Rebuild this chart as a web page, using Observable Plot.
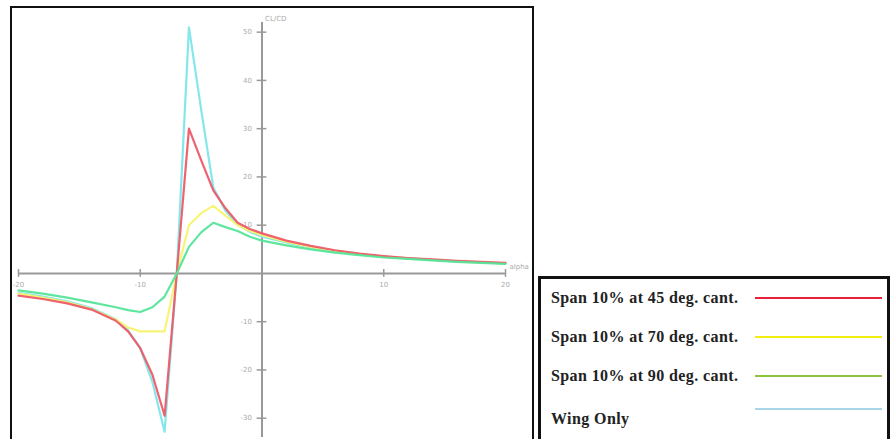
<!DOCTYPE html>
<html>
<head>
<meta charset="utf-8">
<script src="https://cdn.jsdelivr.net/npm/d3@7"></script>
<script src="https://cdn.jsdelivr.net/npm/@observablehq/plot@0.6"></script>
<style>
  html, body { margin: 0; padding: 0; background: #fff; }
  #wrap { position: relative; width: 892px; height: 439px; overflow: hidden; background: #fff; }
  #frame { position: absolute; left: 10px; top: 6px; width: 524px; height: 440px; border: 2px solid #111; box-sizing: border-box; }
  #chart { position: absolute; left: 0; top: 0; }
  #legend { position: absolute; left: 538px; top: 276px; width: 352px; height: 170px; border: 3px solid #111; box-sizing: border-box; background: #fff;
            font-family: "Liberation Serif", "Times New Roman", serif; font-weight: bold; font-size: 16px; color: #222; }
  .row { position: absolute; left: 10px; width: 330px; height: 20px; }
  .row span { position: absolute; left: 0; top: 0; line-height: 20px; white-space: nowrap; letter-spacing: 0.4px; }
  .row i { position: absolute; left: 204px; width: 127px; height: 2px; }
</style>
</head>
<body>
<div id="wrap">
  <div id="frame"></div>
  <div id="chart"></div>
  <div id="legend"></div>
</div>
<script>
// ---- data ----
const alphaNeg = [-20, -18, -16, -14, -12, -11, -10, -9, -8, -7, -6, -5, -4, -3, -2, -1, 0, 2, 4, 6, 8, 10, 12, 14, 16, 18, 20];
const span45 = [-4.6, -5.3, -6.2, -7.5, -9.8, -12, -15.5, -21, -29.5, 0, 30, 23.5, 17.2, 13.5, 10.5, 9.2, 8.3, 6.8, 5.7, 4.8, 4.1, 3.6, 3.2, 2.9, 2.6, 2.4, 2.2];
const span70 = [-4.2, -5.0, -6.0, -7.4, -9.6, -11.2, -12, -12, -12, 0, 10, 12.5, 14, 12, 10, 8.8, 7.9, 6.6, 5.5, 4.7, 4.0, 3.5, 3.1, 2.8, 2.5, 2.3, 2.1];
const span90 = [-3.5, -4.2, -5.0, -6.0, -7.0, -7.6, -8.0, -7.0, -4.8, 0, 5.5, 8.5, 10.5, 9.6, 8.8, 7.6, 6.8, 5.8, 5.0, 4.3, 3.8, 3.3, 3.0, 2.7, 2.4, 2.2, 2.0];
const wingOnly = [-4.0, -4.8, -5.8, -7.2, -9.5, -11.8, -15.5, -22.5, -32.8, 0, 51, 34, 17.8, 13, 10.2, 8.6, 7.6, 6.4, 5.4, 4.6, 4.0, 3.5, 3.1, 2.8, 2.5, 2.3, 2.1];
const seriesNames = ["Span 10% at 45 deg. cant.", "Span 10% at 70 deg. cant.", "Span 10% at 90 deg. cant.", "Wing Only"];
const lineColors = ["#ee5a68", "#f6f470", "#55e59a", "#7ee6ea"];
const legendColors = ["#e8203a", "#f2ee10", "#8cc43e", "#a8d6e6"];
const xTicks = [-20, -10, 10, 20];
const yTicks = [-30, -20, -10, 10, 20, 30, 40, 50];
const xLabel = "alpha";
const yLabel = "CL/CD";

const seriesValues = [span45, span70, span90, wingOnly];
const rows = [];
seriesValues.forEach((vals, i) => vals.forEach((v, j) => rows.push({series: seriesNames[i], alpha: alphaNeg[j], value: v})));
const drawOrder = [3, 1, 0, 2];

const marks = [
  Plot.ruleY([0], {x1: -20, x2: 20, stroke: "#999", strokeWidth: 2}),
  Plot.ruleX([0], {y1: -34, y2: 52, stroke: "#999", strokeWidth: 2}),
  Plot.ruleX(xTicks, {x: d => d, y1: -0.8, y2: 0.8, stroke: "#999", strokeWidth: 1.5}),
  Plot.ruleY(yTicks, {y: d => d, x1: -0.4, x2: 0.4, stroke: "#999", strokeWidth: 1.5}),
  Plot.text(xTicks, {x: d => d, y: 0, dy: 11, text: d => String(d), fill: "#aaa", fontSize: 7, fontFamily: "DejaVu Sans"}),
  Plot.text(yTicks, {x: 0, y: d => d, dx: -10, text: d => String(d), textAnchor: "end", fill: "#aaa", fontSize: 7, fontFamily: "DejaVu Sans"}),
  Plot.text([xLabel], {x: 20, y: 0, dx: 4, dy: -7, text: d => d, textAnchor: "start", fill: "#aaa", fontSize: 7, fontFamily: "DejaVu Sans"}),
  Plot.text([yLabel], {x: 0, y: 52, dx: 3, dy: -4, text: d => d, textAnchor: "start", fill: "#aaa", fontSize: 7, fontFamily: "DejaVu Sans"}),
  ...drawOrder.map(i => Plot.line(rows.filter(r => r.series === seriesNames[i]), {
    x: "alpha", y: "value", stroke: lineColors[i], strokeWidth: 2.2, strokeOpacity: 0.95
  }))
];

const chart = Plot.plot({
  width: 892, height: 439,
  marginLeft: 18, marginRight: 387, marginTop: 22, marginBottom: 2,
  x: {domain: [-20, 20], axis: null},
  y: {domain: [-34, 52], axis: null},
  style: {background: "transparent", overflow: "visible"},
  marks
});
document.getElementById("chart").appendChild(chart);

// legend
const legend = document.getElementById("legend");
const rowTops = [9, 48, 87, 130];
const lineOffsets = [9, 9, 9, -1];
seriesNames.forEach((name, i) => {
  const row = document.createElement("div");
  row.className = "row";
  row.style.top = rowTops[i] + "px";
  const s = document.createElement("span");
  s.textContent = name;
  const l = document.createElement("i");
  l.style.background = legendColors[i];
  l.style.top = lineOffsets[i] + "px";
  row.appendChild(s); row.appendChild(l);
  legend.appendChild(row);
});
</script>
</body>
</html>
